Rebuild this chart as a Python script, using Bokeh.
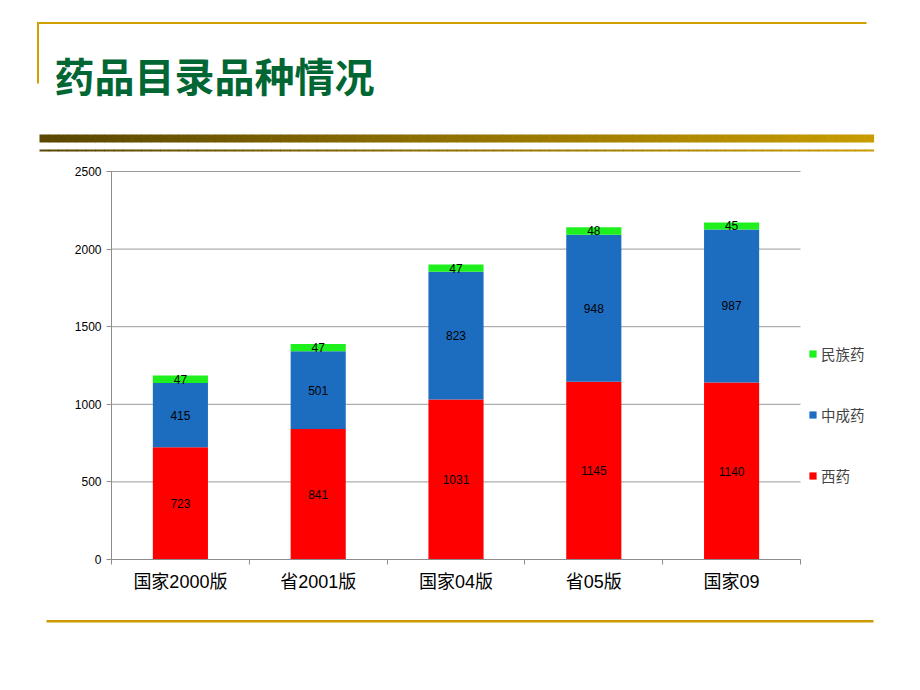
import numpy as np
from bokeh.plotting import figure
from bokeh.models import (ColumnDataSource, Range1d, FixedTicker, Legend, LegendItem)
from bokeh.core.properties import value
from bokeh.embed import file_html
from bokeh.resources import INLINE

# ---------------- data ----------------
title_text = "药品目录品种情况"
categories = ["国家2000版", "省2001版", "国家04版", "省05版", "国家09"]
series_names = ["西药", "中成药", "民族药"]
xiyao = [723, 841, 1031, 1145, 1140]
zhongchengyao = [415, 501, 823, 948, 987]
minzuyao = [47, 47, 47, 48, 45]
y_ticks = [0, 500, 1000, 1500, 2000, 2500]

colors = ["#FF0000", "#1C6DC0", "#1EF01E"]
FONT_CJK = "Noto Sans CJK SC"
FONT_LAT = "Liberation Sans"
FONT_MIX = "Liberation Sans, Noto Sans CJK SC"

# ---------------- geometry (canvas px) ----------------
W, H = 920, 690
FL, FR, FT, FB = 111, 800, 171, 559        # chart plotting area
n = len(categories)
YMAX = y_ticks[-1]
ppx = (FR - FL) / n
ppy = (FB - FT) / YMAX
x_rng = Range1d(-FL / ppx, (W - FL) / ppx)
y_rng = Range1d(-(H - FB) / ppy, FB / ppy)

p = figure(width=W, height=H, x_range=x_rng, y_range=y_rng,
           output_backend="svg", toolbar_location=None, min_border=0,
           outline_line_color=None)
p.title.visible = False
p.extra_x_ranges = {"px": Range1d(0, W)}
p.extra_y_ranges = {"px": Range1d(H, 0)}

# ---------------- chart ----------------
x_centers = [i + 0.5 for i in range(n)]
bounds = list(range(n + 1))
src = ColumnDataSource(dict(x=x_centers, xiyao=xiyao, zcy=zhongchengyao, mzy=minzuyao))

# horizontal grid lines (from tick values, spanning the category range)
p.segment(x0=[0] * len(y_ticks), x1=[n] * len(y_ticks), y0=y_ticks, y1=y_ticks,
          line_color="#9A9A9A", line_width=1, level="underlay")
p.xgrid.visible = False
p.ygrid.visible = False

rs = p.vbar_stack(["xiyao", "zcy", "mzy"], x="x", width=0.4, color=colors,
                  line_color=None, source=src)

b1 = np.array(xiyao, dtype=float)
b2 = b1 + np.array(zhongchengyao)
lab_x = x_centers * 3
lab_y = list(b1 / 2) + list(b1 + np.array(zhongchengyao) / 2) + list(b2 + np.array(minzuyao) / 2)
lab_t = [str(v) for v in xiyao + zhongchengyao + minzuyao]
p.text(x=lab_x, y=lab_y, text=lab_t, text_font=value(FONT_LAT), text_font_size="12px",
       text_color="#000000", text_align="center", text_baseline="middle")

# axes placed inside the frame
ax = p.xaxis[0]
ax.fixed_location = 0
ax.bounds = (0, n)
ax.ticker = FixedTicker(ticks=x_centers, minor_ticks=bounds)
ax.major_label_overrides = {x_centers[i]: categories[i] for i in range(n)}
ax.major_tick_line_color = None
ax.major_tick_out = 0
ax.major_tick_in = 0
ax.minor_tick_out = 5
ax.minor_tick_in = 0
ax.minor_tick_line_color = "#8C8C8C"
ax.axis_line_color = "#8C8C8C"
ax.major_label_text_font = FONT_MIX
ax.major_label_text_font_size = "18px"
ax.major_label_text_color = "#000000"
ax.major_label_standoff = 7

ay = p.yaxis[0]
ay.fixed_location = 0
ay.bounds = (0, YMAX)
ay.ticker = FixedTicker(ticks=y_ticks)
ay.major_tick_out = 5
ay.major_tick_in = 0
ay.minor_tick_line_color = None
ay.major_tick_line_color = "#8C8C8C"
ay.axis_line_color = "#8C8C8C"
ay.major_label_text_font = FONT_LAT
ay.major_label_text_font_size = "12px"
ay.major_label_text_color = "#000000"
ay.major_label_standoff = 5

legend = Legend(items=[LegendItem(label=series_names[i], renderers=[rs[i]]) for i in [2, 1, 0]],
                location=(FR + 8, H - 485.5), orientation="vertical", glyph_width=9, glyph_height=9,
                label_text_font=FONT_CJK, label_text_font_size="14.5px", label_height=14,
                label_standoff=4, spacing=40, padding=10, margin=0,
                border_line_color=None, background_fill_alpha=0)
p.add_layout(legend, "center")

# ---------------- slide decoration (pixel range) ----------------
deco = dict(x_range_name="px", y_range_name="px")
p.quad(left=[37, 36.5], right=[866, 38.5], top=[21.5, 21.5], bottom=[23.5, 83],
       fill_color="#D0A000", line_color=None, **deco)

N = 90
xs = np.linspace(39, 873, N + 1)
c0 = np.array([0x5A, 0x48, 0x02])
c1 = np.array([0xC8, 0x9C, 0x00])
gcols = ["#%02x%02x%02x" % tuple((c0 + (c1 - c0) * (i / (N - 1))).astype(int)) for i in range(N)]
p.quad(left=xs[:-1], right=xs[1:] + 0.6, top=[134] * N, bottom=[142] * N,
       fill_color=gcols, line_color=None, **deco)
p.quad(left=xs[:-1], right=xs[1:] + 0.6, top=[149] * N, bottom=[151] * N,
       fill_color=gcols, line_color=None, **deco)
p.quad(left=[46], right=[873], top=[619.5], bottom=[622], fill_color="#CC9900",
       line_color=None, **deco)

p.text(x=[54], y=[74], text=[title_text], text_font=value(FONT_CJK), text_font_size="40px",
       text_font_style="bold", text_color="#006633", text_baseline="middle",
       text_align="left", **deco)

open("out.html", "w").write(file_html(p, INLINE))
